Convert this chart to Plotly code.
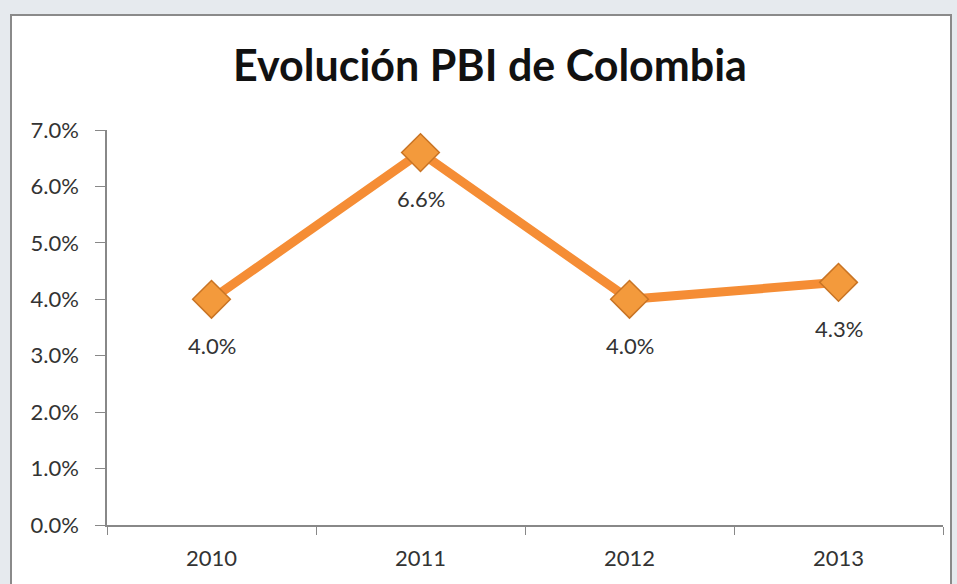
import plotly.graph_objects as go

years = ["2010", "2011", "2012", "2013"]
pbi = [4.0, 6.6, 4.0, 4.3]
labels = ["4.0%", "6.6%", "4.0%", "4.3%"]
title = "Evolución PBI de Colombia"

W, H = 957, 584
L, R, T, B = 107, 14, 130, 59
FONT = "Lato, Open Sans, sans-serif"

fig = go.Figure()
fig.add_trace(go.Scatter(
    x=years, y=pbi, mode="lines+markers",
    line=dict(color="#F58D35", width=9),
    marker=dict(symbol="diamond", size=29, color="#F39A3C",
                line=dict(color="#C97424", width=1.5)),
    hoverinfo="skip", showlegend=False, cliponaxis=False,
))
for i, (y, t) in enumerate(zip(pbi, labels)):
    fig.add_annotation(x=i, y=y, xref="x", yref="y", text=t, showarrow=False,
                       yshift=-46,
                       font=dict(family=FONT, size=22, color="#333333"))

fig.add_shape(type="rect", xref="paper", yref="paper",
              x0=-(L - 11) / (W - L - R), x1=1 + (951 - (W - R)) / (W - L - R),
              y0=-(B + 5) / (H - T - B), y1=1 + (T - 15) / (H - T - B),
              line=dict(color="#8a8a8a", width=2), fillcolor="white", layer="below")

fig.update_layout(
    width=W, height=H,
    margin=dict(l=L, r=R, t=T, b=B),
    paper_bgcolor="#e6eaee", plot_bgcolor="rgba(0,0,0,0)",
    title=dict(text="<b>" + title + "</b>", x=490 / W, xanchor="center",
               y=1 - 66 / H, yanchor="middle",
               font=dict(family=FONT, size=43, color="#111111")),
    xaxis=dict(type="category", range=[-0.5, 3.5], tickson="boundaries",
               ticks="outside", ticklen=8, tickcolor="#888888",
               showline=True, linecolor="#888888", linewidth=1.5,
               showgrid=False, zeroline=False, ticklabelstandoff=13,
               tickfont=dict(family=FONT, size=22, color="#333333")),
    yaxis=dict(range=[0, 7], dtick=1, tickformat=".1f", ticksuffix="%",
               ticks="outside", ticklen=10, tickcolor="#888888",
               showline=True, linecolor="#888888", linewidth=1.5,
               showgrid=False, zeroline=False, ticklabelstandoff=12,
               tickfont=dict(family=FONT, size=22, color="#333333")),
)
fig.write_html("out.html")
